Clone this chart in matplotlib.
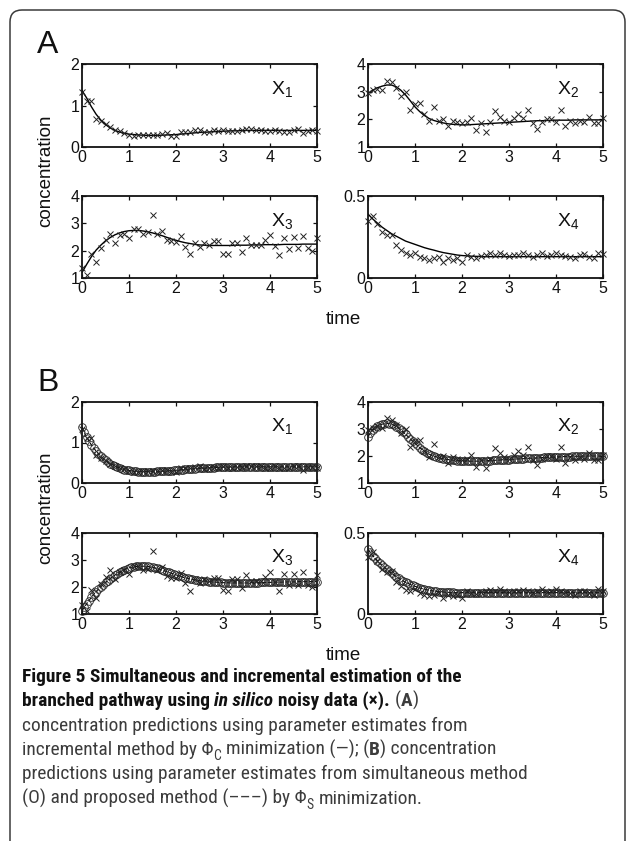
import numpy as np
import matplotlib
matplotlib.use('Agg')
import matplotlib.pyplot as plt
from matplotlib import font_manager
from matplotlib.patches import FancyBboxPatch
from matplotlib.transforms import IdentityTransform

plt.rcParams['font.family'] = ['Liberation Sans', 'DejaVu Sans']
plt.rcParams['mathtext.fontset'] = 'custom'
plt.rcParams['mathtext.rm'] = 'Liberation Sans'

W, H = 627, 841

# sampling times of the noisy data and of the simultaneous-method fit
t_data = np.round(np.arange(0, 5.01, 0.1), 2)
t_fit = np.round(np.arange(0, 5.001, 0.05), 2)

# noisy in silico data (x markers), same in A and B
x1_data = [1.33, 1.10, 1.10, 0.68, 0.62, 0.55, 0.47, 0.42, 0.38, 0.34,
           0.30, 0.27, 0.28, 0.30, 0.29, 0.30, 0.29, 0.31, 0.33, 0.26,
           0.27, 0.36, 0.37, 0.36, 0.40, 0.42, 0.35, 0.36, 0.40, 0.38,
           0.42, 0.38, 0.38, 0.39, 0.40, 0.43, 0.43, 0.42, 0.42, 0.38,
           0.38, 0.42, 0.38, 0.36, 0.37, 0.41, 0.43, 0.33, 0.39, 0.40,
           0.38]
x2_data = [2.95, 3.05, 3.10, 3.05, 3.40, 3.35, 3.15, 2.85, 3.00, 2.35,
           2.55, 2.60, 2.20, 1.95, 2.45, 1.95, 2.00, 1.75, 1.95, 1.90,
           1.85, 1.90, 2.05, 1.60, 1.85, 1.55, 1.90, 2.30, 2.10, 1.95,
           1.90, 2.05, 2.20, 2.05, 2.35, 1.85, 1.65, 1.90, 2.00, 2.00,
           1.90, 2.35, 1.75, 1.95, 1.85, 1.95, 1.90, 2.10, 1.85, 1.85,
           2.05]
x3_data = [1.35, 1.10, 1.88, 1.60, 2.10, 2.38, 2.62, 2.28, 2.56, 2.62,
           2.48, 2.78, 2.78, 2.62, 2.68, 3.32, 2.62, 2.73, 2.40, 2.35,
           2.32, 2.52, 2.13, 1.87, 2.28, 2.15, 2.28, 2.22, 2.35, 2.35,
           1.89, 1.87, 2.28, 2.28, 1.96, 2.45, 2.22, 2.22, 2.22, 2.38,
           2.56, 2.17, 1.85, 2.48, 2.06, 2.50, 2.08, 2.55, 2.08, 2.00,
           2.45]
x4_data = [0.35, 0.38, 0.33, 0.28, 0.26, 0.265, 0.20, 0.17, 0.15, 0.14,
           0.155, 0.13, 0.12, 0.11, 0.12, 0.13, 0.10, 0.12, 0.11, 0.12,
           0.10, 0.14, 0.13, 0.125, 0.135, 0.14, 0.15, 0.14, 0.155, 0.14,
           0.135, 0.14, 0.14, 0.15, 0.14, 0.13, 0.14, 0.155, 0.135, 0.14,
           0.155, 0.14, 0.135, 0.13, 0.12, 0.14, 0.145, 0.13, 0.12, 0.155,
           0.145]

# (A) incremental method, Phi_C minimization (solid line)
x1_incr = [1.36, 1.18, 0.97, 0.79, 0.65, 0.54, 0.46, 0.40, 0.36, 0.33,
           0.31, 0.30, 0.29, 0.285, 0.28, 0.28, 0.28, 0.285, 0.29, 0.295,
           0.30, 0.31, 0.32, 0.33, 0.34, 0.35, 0.355, 0.36, 0.37, 0.375,
           0.38, 0.385, 0.39, 0.39, 0.395, 0.40, 0.40, 0.40, 0.40, 0.40,
           0.40, 0.40, 0.40, 0.40, 0.40, 0.40, 0.40, 0.40, 0.40, 0.40,
           0.40]
x2_incr = [2.94, 3.05, 3.14, 3.20, 3.24, 3.24, 3.18, 3.05, 2.88, 2.67,
           2.45, 2.28, 2.14, 2.03, 1.96, 1.91, 1.87, 1.84, 1.82, 1.81,
           1.80, 1.80, 1.81, 1.82, 1.83, 1.84, 1.85, 1.86, 1.87, 1.88,
           1.89, 1.90, 1.91, 1.92, 1.93, 1.94, 1.95, 1.95, 1.96, 1.96,
           1.97, 1.97, 1.97, 1.97, 1.98, 1.98, 1.98, 1.98, 1.98, 1.98,
           1.98]
x3_incr = [1.20, 1.50, 1.78, 2.02, 2.20, 2.36, 2.48, 2.58, 2.65, 2.70,
           2.73, 2.74, 2.74, 2.72, 2.69, 2.65, 2.60, 2.55, 2.49, 2.43,
           2.38, 2.33, 2.29, 2.26, 2.23, 2.21, 2.20, 2.19, 2.19, 2.19,
           2.19, 2.19, 2.19, 2.20, 2.20, 2.20, 2.21, 2.21, 2.21, 2.22,
           2.22, 2.22, 2.22, 2.23, 2.23, 2.23, 2.23, 2.24, 2.24, 2.24,
           2.24]
x4_incr = [0.39, 0.36, 0.335, 0.31, 0.29, 0.27, 0.255, 0.24, 0.225, 0.215,
           0.205, 0.195, 0.185, 0.177, 0.17, 0.162, 0.155, 0.15, 0.145, 0.14,
           0.137, 0.135, 0.133, 0.132, 0.131, 0.13, 0.13, 0.13, 0.13, 0.13,
           0.13, 0.13, 0.13, 0.13, 0.13, 0.13, 0.13, 0.13, 0.13, 0.13,
           0.13, 0.13, 0.13, 0.13, 0.13, 0.13, 0.13, 0.13, 0.13, 0.13,
           0.13]

# (B) simultaneous method (circles) / proposed method (dashed), Phi_S
x1_simul = [1.38, 1.25, 1.13, 1.03, 0.94, 0.86, 0.79, 0.72, 0.66, 0.61,
            0.56, 0.52, 0.48, 0.45, 0.42, 0.39, 0.37, 0.35, 0.33, 0.32,
            0.31, 0.30, 0.29, 0.285, 0.28, 0.28, 0.28, 0.28, 0.28, 0.28,
            0.28, 0.28, 0.285, 0.29, 0.29, 0.295, 0.30, 0.30, 0.305, 0.31,
            0.315, 0.32, 0.325, 0.33, 0.335, 0.34, 0.345, 0.35, 0.355, 0.36,
            0.36, 0.365, 0.37, 0.37, 0.375, 0.38, 0.38, 0.385, 0.385, 0.39,
            0.39, 0.39, 0.395, 0.395, 0.40, 0.40, 0.40, 0.40, 0.40, 0.40,
            0.40, 0.40, 0.40, 0.40, 0.40, 0.40, 0.40, 0.40, 0.40, 0.40,
            0.40, 0.40, 0.40, 0.40, 0.40, 0.40, 0.40, 0.40, 0.40, 0.40,
            0.40, 0.40, 0.40, 0.40, 0.40, 0.40, 0.40, 0.40, 0.40, 0.40,
            0.40]
x2_simul = [2.72, 2.85, 2.95, 3.03, 3.10, 3.15, 3.18, 3.20, 3.21, 3.20,
            3.18, 3.14, 3.09, 3.03, 2.96, 2.88, 2.80, 2.72, 2.63, 2.55,
            2.47, 2.39, 2.31, 2.24, 2.18, 2.12, 2.07, 2.03, 2.00, 1.97,
            1.94, 1.92, 1.90, 1.88, 1.87, 1.86, 1.85, 1.84, 1.83, 1.83,
            1.82, 1.82, 1.82, 1.81, 1.81, 1.81, 1.81, 1.81, 1.82, 1.82,
            1.82, 1.83, 1.83, 1.84, 1.84, 1.85, 1.85, 1.86, 1.86, 1.87,
            1.87, 1.88, 1.88, 1.89, 1.89, 1.90, 1.90, 1.91, 1.91, 1.92,
            1.92, 1.93, 1.93, 1.94, 1.94, 1.95, 1.95, 1.96, 1.96, 1.96,
            1.97, 1.97, 1.97, 1.98, 1.98, 1.98, 1.98, 1.99, 1.99, 1.99,
            1.99, 1.99, 2.00, 2.00, 2.00, 2.00, 2.00, 2.00, 2.00, 2.00,
            2.00]
x3_simul = [1.12, 1.25, 1.38, 1.50, 1.62, 1.73, 1.83, 1.92, 2.01, 2.09,
            2.17, 2.24, 2.31, 2.38, 2.44, 2.50, 2.55, 2.60, 2.64, 2.68,
            2.71, 2.73, 2.75, 2.76, 2.77, 2.77, 2.77, 2.77, 2.76, 2.75,
            2.73, 2.71, 2.69, 2.66, 2.63, 2.60, 2.57, 2.54, 2.51, 2.48,
            2.45, 2.42, 2.39, 2.36, 2.34, 2.32, 2.30, 2.28, 2.26, 2.25,
            2.24, 2.23, 2.22, 2.21, 2.20, 2.19, 2.18, 2.18, 2.17, 2.17,
            2.16, 2.16, 2.16, 2.15, 2.15, 2.15, 2.15, 2.15, 2.15, 2.15,
            2.15, 2.15, 2.16, 2.16, 2.16, 2.16, 2.17, 2.17, 2.17, 2.17,
            2.17, 2.18, 2.18, 2.18, 2.18, 2.18, 2.19, 2.19, 2.19, 2.19,
            2.19, 2.19, 2.20, 2.20, 2.20, 2.20, 2.20, 2.20, 2.20, 2.20,
            2.20]
x4_simul = [0.40, 0.38, 0.36, 0.345, 0.33, 0.315, 0.30, 0.288, 0.275, 0.263,
            0.252, 0.241, 0.231, 0.221, 0.212, 0.204, 0.196, 0.189, 0.182, 0.176,
            0.171, 0.166, 0.161, 0.157, 0.153, 0.150, 0.147, 0.144, 0.142, 0.140,
            0.138, 0.137, 0.136, 0.135, 0.134, 0.133, 0.133, 0.132, 0.132, 0.132,
            0.132, 0.132, 0.132, 0.132, 0.132, 0.132, 0.132, 0.132, 0.132, 0.132,
            0.132, 0.132, 0.132, 0.132, 0.132, 0.132, 0.132, 0.132, 0.132, 0.132,
            0.132, 0.132, 0.132, 0.132, 0.132, 0.132, 0.132, 0.132, 0.132, 0.132,
            0.132, 0.132, 0.132, 0.132, 0.132, 0.132, 0.132, 0.132, 0.132, 0.132,
            0.132, 0.132, 0.132, 0.132, 0.132, 0.132, 0.132, 0.132, 0.132, 0.132,
            0.132, 0.132, 0.132, 0.132, 0.132, 0.132, 0.132, 0.132, 0.132, 0.132,
            0.132]

species = ['1', '2', '3', '4']
y_limits = [(0, 2), (1, 4), (1, 4), (0, 0.5)]
y_ticks = [[0, 1, 2], [1, 2, 3, 4], [1, 2, 3, 4], [0, 0.5]]
y_ticklabels = [['0', '1', '2'], ['1', '2', '3', '4'], ['1', '2', '3', '4'], ['0', '0.5']]
x_ticks = [0, 1, 2, 3, 4, 5]
data_all = [x1_data, x2_data, x3_data, x4_data]
incr_all = [x1_incr, x2_incr, x3_incr, x4_incr]
simul_all = [x1_simul, x2_simul, x3_simul, x4_simul]

fig = plt.figure(figsize=(W / 100, H / 100), dpi=100)
PX = IdentityTransform()


def axes_px(left, top, right, bottom):
    # pixel box (from top-left of the image) -> figure fraction
    return [left / W, 1 - bottom / H, (right - left) / W, (bottom - top) / H]


def draw_panel(ax, k, panel):
    if panel == 'A':
        ax.plot(t_data, incr_all[k], '-', color='k', lw=1.0, zorder=2)
    else:
        ax.plot(t_fit, simul_all[k], '--', color='k', lw=0.8, zorder=2)
        ax.plot(t_fit, simul_all[k], 'o', mfc='none', mec='#222222', ms=5.5,
                mew=0.6, zorder=3, clip_on=False)
    ax.plot(t_data, data_all[k], 'x', color='#222222', ms=5, mew=0.7,
            zorder=4, clip_on=False)
    ax.set_xlim(0, 5)
    ax.set_ylim(*y_limits[k])
    ax.set_xticks(x_ticks)
    ax.set_xticklabels([str(v) for v in x_ticks])
    ax.set_yticks(y_ticks[k])
    ax.set_yticklabels(y_ticklabels[k])
    ax.tick_params(direction='in', top=True, right=True, length=3, width=0.9,
                   labelsize=11.5, colors='#111111')
    ax.tick_params(axis='x', pad=2.5)
    ax.tick_params(axis='y', pad=2.0)
    for s in ax.spines.values():
        s.set_linewidth(1.3)
        s.set_color('#111111')
    ax.text(0.805, 0.7, r'$\mathregular{X_%s}$' % species[k], transform=ax.transAxes,
            fontsize=14, ha='left', va='center', color='#111111')


# column / row positions in pixels
cols = [(82, 317), (368, 603)]
rows = {'A': [(64, 147), (196, 278)], 'B': [(402, 483), (533, 614)]}

for panel in ['A', 'B']:
    for k in range(4):
        c = cols[k % 2]
        r = rows[panel][k // 2]
        ax = fig.add_axes(axes_px(c[0], r[0], c[1], r[1]))
        draw_panel(ax, k, panel)
    top = rows[panel][0][0]
    bot = rows[panel][1][1]
    fig.text(37, H - (top - 11), panel, transform=PX, fontsize=23,
             ha='left', va='baseline', color='#111111')
    fig.text(46, H - (top + bot) / 2, 'concentration', transform=PX, rotation=90,
             fontsize=13.5, ha='center', va='center', color='#111111')
    fig.text(343, H - (bot + 41), 'time', transform=PX, fontsize=13.5,
             ha='center', va='center', color='#111111')

# rounded frame around figure
frame = FancyBboxPatch((10, -40), 615, H - 10 + 40,
                       boxstyle='round,pad=0,rounding_size=12',
                       transform=PX, fill=False, lw=1.1, ec='#3a3a3a')
fig.add_artist(frame)

# caption
names = {f.name for f in font_manager.fontManager.ttflist}
cap_font = 'Liberation Sans'
for cand in ['Liberation Sans Narrow', 'Roboto Condensed', 'Open Sans Condensed']:
    if cand in names:
        cap_font = cand
        break
cap_family = [cap_font, 'DejaVu Sans']

renderer = fig.canvas.get_renderer()
BOLD_C = '#111111'
REG_C = '#3c3c3c'


def style_of(kind, size):
    d = dict(family=cap_family, fontsize=size, color=REG_C)
    if kind in ('b', 'bi', 'rb'):
        d['fontweight'] = 'bold'
    if kind in ('b', 'bi'):
        d['color'] = BOLD_C
    if kind == 'bi':
        d['fontstyle'] = 'italic'
    if kind == 'sub':
        d['fontsize'] = size * 0.7
    return d


def width_of(s, **kw):
    t = fig.text(0, 0, s, transform=PX, **kw)
    w = t.get_window_extent(renderer).width
    t.remove()
    return w


def write_line(y_top, pieces, size):
    x = 22
    y = H - y_top
    for s, kind in pieces:
        kw = style_of(kind, size)
        space = width_of('a a', **kw) - width_of('aa', **kw)
        lead = len(s) - len(s.lstrip(' '))
        trail = len(s) - len(s.rstrip(' '))
        core = s.strip(' ')
        x += lead * space
        dy = -size * 0.35 if kind == 'sub' else 0
        t = fig.text(x, y + dy, core, transform=PX, va='baseline', ha='left', **kw)
        x += t.get_window_extent(renderer).width + trail * space


line1 = 'Figure 5 Simultaneous and incremental estimation of the'
base = 12.0
w1 = width_of(line1, **style_of('b', base))
cap_size = base * 441.0 / w1

caption = [
    [(line1, 'b')],
    [('branched pathway using ', 'b'), ('in silico', 'bi'), (' noisy data (\u00d7).', 'b'),
     (' (', 'r'), ('A', 'rb'), (')', 'r')],
    [('concentration predictions using parameter estimates from', 'r')],
    [('incremental method by \u03a6', 'r'), ('C', 'sub'), (' minimization (\u2014); (', 'r'),
     ('B', 'rb'), (') concentration', 'r')],
    [('predictions using parameter estimates from simultaneous method', 'r')],
    [('(O) and proposed method (\u2013\u2013\u2013) by \u03a6', 'r'), ('S', 'sub'),
     (' minimization.', 'r')],
]
baselines = [682, 706, 731, 755, 779, 804]
for yb, pieces in zip(baselines, caption):
    write_line(yb, pieces, cap_size)

fig.savefig('out.png', dpi=100)
